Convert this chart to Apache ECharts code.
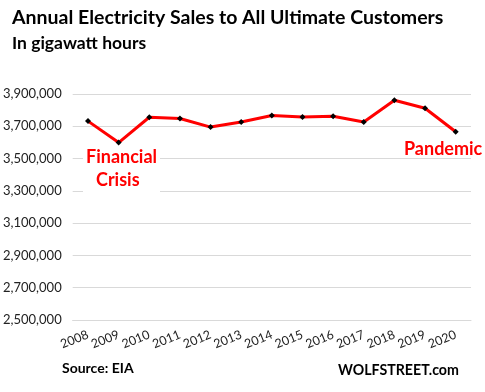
<!DOCTYPE html>
<html><head><meta charset="utf-8">
<script src="https://cdn.jsdelivr.net/npm/echarts@6/dist/echarts.min.js"></script>
<style>html,body{margin:0;padding:0;background:#fff}#c{width:485px;height:392px}</style>
</head><body><div id="c"></div>
<script>
const years = ['2008','2009','2010','2011','2012','2013','2014','2015','2016','2017','2018','2019','2020'];
const sales = [3732000,3599000,3756000,3748000,3695000,3726000,3767000,3758000,3762000,3726000,3861000,3812000,3666000];
const yMin = 2500000, yMax = 3900000, yStep = 200000;
const titleText = 'Annual Electricity Sales to All Ultimate Customers';
const subtitleText = 'In gigawatt hours';
const sourceText = 'Source: EIA';
const brandText = 'WOLFSTREET.com';
const F = 'Lato, "Open Sans", sans-serif';
const chart = echarts.init(document.getElementById('c'), null, {renderer:'canvas'});
chart.setOption({
  animation:false,
  backgroundColor:'#fff',
  grid:{left:71,right:14,top:94,bottom:72,containLabel:false},
  xAxis:{type:'category',data:years,boundaryGap:true,
    axisLine:{show:true,lineStyle:{color:'#d9d9d9',width:1}},
    axisTick:{show:false},
    axisLabel:{rotate:22,color:'#222',fontFamily:F,fontSize:12.5,margin:14,interval:0}},
  yAxis:{type:'value',min:yMin,max:yMax,interval:yStep,
    axisLine:{show:false},axisTick:{show:false},
    splitLine:{lineStyle:{color:'#d9d9d9',width:1}},
    axisLabel:{color:'#222',fontFamily:F,fontSize:13,margin:11,
      formatter:v=>v.toLocaleString('en-US')}},
  series:[{type:'line',data:sales,lineStyle:{color:'#ff0000',width:3},
    symbol:'diamond',symbolSize:6,itemStyle:{color:'#000'},z:3}],
  graphic:[
    {type:'text',left:12,top:8,style:{text:titleText,font:'bold 19.5px '+F,fill:'#000'}},
    {type:'text',left:12,top:34,style:{text:subtitleText,font:'bold 17.5px '+F,fill:'#000'}},
    {type:'rect',shape:{x:83,y:146,width:77,height:48},style:{fill:'#fff'},z:10},
    {type:'text',left:86,top:148,z:11,style:{text:'Financial',font:'bold 18px '+F,fill:'#ff0000'}},
    {type:'text',left:96,top:171,z:11,style:{text:'Crisis',font:'bold 18px '+F,fill:'#ff0000'}},
    {type:'rect',shape:{x:402,y:140,width:83,height:17},style:{fill:'#fff'},z:10},
    {type:'text',left:404,top:140,z:11,style:{text:'Pandemic',font:'bold 18px '+F,fill:'#ff0000'}},
    {type:'text',left:62,top:361,style:{text:sourceText,font:'bold 14px '+F,fill:'#000'}},
    {type:'text',left:338,top:363,style:{text:brandText,font:'bold 14.2px '+F,fill:'#000'}}
  ]
});
</script></body></html>
